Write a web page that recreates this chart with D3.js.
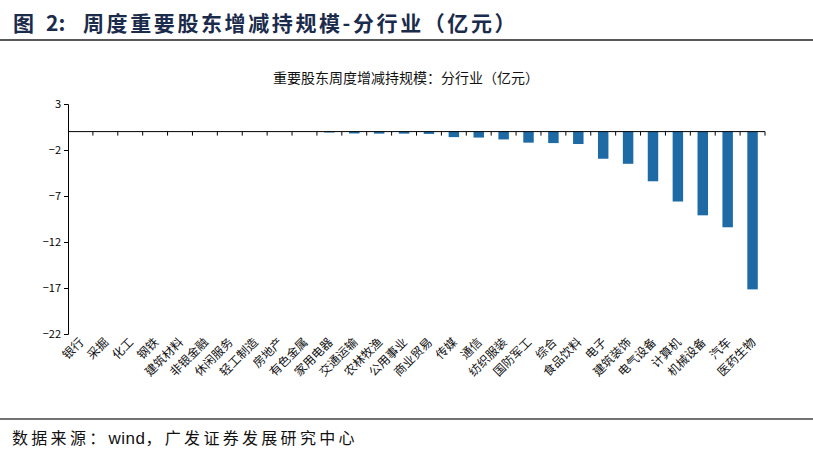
<!DOCTYPE html>
<html>
<head>
<meta charset="utf-8">
<script src="https://cdn.jsdelivr.net/npm/d3@7"></script>
<style>
  body { margin: 0; background: #fff; }
  text { font-family: "Noto Sans CJK SC", "Liberation Sans", sans-serif; }
</style>
</head>
<body>
<div id="chart-area"></div>
<script>
// industries, left to right
var industries = ["银行", "采掘", "化工", "钢铁", "建筑材料", "非银金融", "休闲服务",
  "轻工制造", "房地产", "有色金属", "家用电器", "交通运输", "农林牧渔", "公用事业",
  "商业贸易", "传媒", "通信", "纺织服装", "国防军工", "综合", "食品饮料", "电子",
  "建筑装饰", "电气设备", "计算机", "机械设备", "汽车", "医药生物"];
// net change (亿元)
var values = [0, 0, 0, 0, 0, 0, 0, 0, 0, -0.02, -0.1, -0.2, -0.22, -0.22,
  -0.25, -0.6, -0.65, -0.85, -1.2, -1.25, -1.35, -2.95, -3.5, -5.4, -7.6,
  -9.1, -10.4, -17.15];
var yTicks = [3, -2, -7, -12, -17, -22];

var W = 813, H = 461;
var svg = d3.select("#chart-area").append("svg")
    .attr("width", W)
    .attr("height", H);

// header
var head = svg.append("text")
    .attr("y", 31)
    .attr("font-size", "21px")
    .attr("font-weight", "bold")
    .attr("fill", "#1b2b4b");
head.append("tspan").attr("x", 13).text("图");
head.append("tspan").attr("x", 46).text("2:");
head.append("tspan").attr("x", 83).attr("letter-spacing", "2.6px")
    .text("周度重要股东增减持规模-分行业（亿元）");

svg.append("line")
    .attr("x1", 0).attr("x2", W)
    .attr("y1", 40).attr("y2", 40)
    .attr("stroke", "#222").attr("stroke-width", 1.5);

svg.append("text")
    .attr("x", 406)
    .attr("y", 83)
    .attr("font-size", "14px")
    .attr("text-anchor", "middle")
    .attr("fill", "#111")
    .text("重要股东周度增减持规模：分行业（亿元）");

// plot area
var pLeft = 68, pRight = 765, pTop = 104, pBottom = 334;

var x = d3.scaleBand()
    .domain(industries)
    .range([pLeft, pRight])
    .paddingInner(0.58)
    .paddingOuter(0.29);

var y = d3.scaleLinear()
    .domain([-22, 3])
    .range([pBottom, pTop]);

var step = (pRight - pLeft) / industries.length;

// bars
svg.selectAll("rect.bar")
    .data(values)
    .enter()
    .append("rect")
    .attr("class", "bar")
    .attr("x", function (d, i) { return x(industries[i]); })
    .attr("y", function (d) { return y(Math.max(0, d)); })
    .attr("width", x.bandwidth())
    .attr("height", function (d) { return Math.abs(y(d) - y(0)); })
    .attr("fill", "#1d6aa5");

// y axis
var yAxis = d3.axisLeft(y)
    .tickValues(yTicks)
    .tickSize(4)
    .tickFormat(d3.format("d"));
var yG = svg.append("g")
    .attr("transform", "translate(" + pLeft + ",0)")
    .call(yAxis);
yG.select(".domain").attr("stroke", "#000");
yG.selectAll(".tick line").attr("stroke", "#000");
yG.selectAll(".tick text")
    .attr("font-family", "Liberation Sans, Arial, sans-serif")
    .attr("font-size", "11px")
    .attr("fill", "#000");

// zero line with ticks between categories
svg.append("line")
    .attr("x1", pLeft).attr("x2", pRight)
    .attr("y1", y(0)).attr("y2", y(0))
    .attr("stroke", "#000").attr("stroke-width", 1);

svg.selectAll("line.xtick")
    .data(d3.range(1, industries.length + 1))
    .enter()
    .append("line")
    .attr("class", "xtick")
    .attr("x1", function (i) { return pLeft + i * step; })
    .attr("x2", function (i) { return pLeft + i * step; })
    .attr("y1", y(0))
    .attr("y2", y(0) + 4)
    .attr("stroke", "#000");

// category labels at the bottom, rotated
svg.selectAll("text.cat")
    .data(industries)
    .enter()
    .append("text")
    .attr("class", "cat")
    .attr("font-size", "12px")
    .attr("fill", "#111")
    .attr("text-anchor", "end")
    .attr("transform", function (d) {
        var cx = x(d) + x.bandwidth() / 2 + 4;
        return "translate(" + cx + "," + 343 + ") rotate(-45)";
    })
    .text(function (d) { return d; });

// footer
svg.append("line")
    .attr("x1", 0).attr("x2", W)
    .attr("y1", 419).attr("y2", 419)
    .attr("stroke", "#444").attr("stroke-width", 1.5);

var src = svg.append("text")
    .attr("x", 12)
    .attr("y", 444)
    .attr("font-size", "16px")
    .attr("letter-spacing", "3.3px")
    .attr("fill", "#111");
src.append("tspan").text("数据来源：");
src.append("tspan")
    .attr("font-family", "Liberation Sans, Arial, sans-serif")
    .attr("font-size", "17px")
    .attr("letter-spacing", "0.5px")
    .text("wind");
src.append("tspan").text("，广发证券发展研究中心");
</script>
</body>
</html>
